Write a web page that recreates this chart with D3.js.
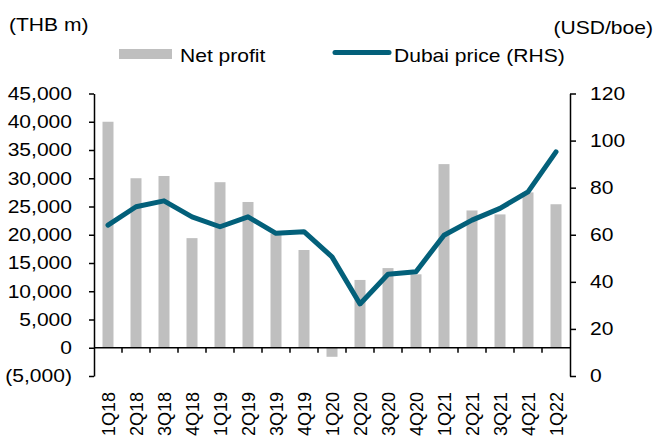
<!DOCTYPE html>
<html>
<head>
<meta charset="utf-8">
<script src="https://cdn.jsdelivr.net/npm/d3@7"></script>
<style>
body{margin:0;background:#fff}
svg{display:block}
text{font-family:"Liberation Sans",Arial,sans-serif;font-size:18px;fill:#000}
</style>
</head>
<body>
<svg width="656" height="441"></svg>
<script>
const quarters=["1Q18","2Q18","3Q18","4Q18","1Q19","2Q19","3Q19","4Q19","1Q20","2Q20","3Q20","4Q20","1Q21","2Q21","3Q21","4Q21","1Q22"]
const netProfit=[40000,30000,30400,19400,29300,25800,20200,17300,-1600,12000,14100,13000,32500,24300,23600,27500,25400]
const dubai=[64.1,71.9,74.4,67.6,63.4,67.6,60.6,61.3,50.6,30.6,43.2,44.3,59.8,66.2,71.2,78.2,95.2]
const leftTicks=[-5000,0,5000,10000,15000,20000,25000,30000,35000,40000,45000]
const rightTicks=[0,20,40,60,80,100,120]

const sx=1.17 // text in the picture is a bit wide
const svg=d3.select("svg")
const x0=94,x1=570,yTop=93.5,yBot=376
const barCol="#bfbfbf",lineCol="#03607a"

const x=d3.scaleBand().domain(quarters).range([x0,x1])
const yL=d3.scaleLinear().domain([-5000,45000]).range([yBot,yTop])
const yR=d3.scaleLinear().domain([0,120]).range([yBot,yTop])

const fmt=v=>v<0?"("+d3.format(",")(-v)+")":d3.format(",")(v)

// bars
svg.append("g").selectAll("rect").data(netProfit).join("rect")
.attr("x",(d,i)=>x(quarters[i])+x.bandwidth()/2-5.5)
.attr("width",11)
.attr("y",d=>yL(Math.max(0,d)))
.attr("height",d=>Math.abs(yL(d)-yL(0)))
.attr("fill",barCol)

// left axis
let gl=svg.append("g").attr("transform",`translate(${x0},0)`)
.call(d3.axisLeft(yL).tickValues(leftTicks).tickFormat(fmt).tickSize(5).tickSizeOuter(0))
gl.select(".domain").attr("stroke-width",1.5)
gl.selectAll(".tick line").attr("stroke-width",1.5)
gl.selectAll("text").attr("x",-22/sx).attr("transform",`scale(${sx},1)`).style("font-size","18px").style("font-family",null)

// right axis
let gr=svg.append("g").attr("transform",`translate(${x1},0)`)
.call(d3.axisRight(yR).tickValues(rightTicks).tickSize(6).tickSizeOuter(0))
gr.select(".domain").attr("stroke-width",1.5)
gr.selectAll(".tick line").attr("stroke-width",1.5)
gr.selectAll("text").attr("x",20/sx).attr("transform",`scale(${sx},1)`).style("font-size","18px").style("font-family",null)

// x axis at zero
let gx=svg.append("g").attr("transform",`translate(0,${yL(0)})`)
gx.append("line").attr("x1",x0).attr("x2",x1).attr("stroke","#000").attr("stroke-width",1.5)
gx.selectAll(".tk").data(quarters.slice(1)).join("line")
.attr("x1",d=>x(d)).attr("x2",d=>x(d)).attr("y1",0).attr("y2",5)
.attr("stroke","#000").attr("stroke-width",1.5)

// rotated quarter labels
svg.append("g").selectAll("text").data(quarters).join("text")
.attr("transform",d=>`translate(${x(d)+x.bandwidth()/2+1},392) rotate(-90)`)
.attr("text-anchor","end").attr("dy","0.35em").text(d=>d)

// line
const line=d3.line().x((d,i)=>x(quarters[i])+x.bandwidth()/2).y(d=>yR(d))
svg.append("path").datum(dubai).attr("d",line).attr("fill","none")
.attr("stroke",lineCol).attr("stroke-width",5).attr("stroke-linejoin","round").attr("stroke-linecap","round")

// units and legend
const txt=(t,px,py,anchor)=>svg.append("text").attr("transform",`translate(${px},${py}) scale(${sx},1)`).attr("text-anchor",anchor||"start").text(t)
txt("(THB m)",9,30.5)
txt("(USD/boe)",653,34,"end")
svg.append("rect").attr("x",119).attr("y",49).attr("width",53).attr("height",10).attr("fill",barCol)
txt("Net profit",180,62)
svg.append("line").attr("x1",335).attr("x2",389).attr("y1",52.5).attr("y2",52.5)
.attr("stroke",lineCol).attr("stroke-width",5).attr("stroke-linecap","round")
txt("Dubai price (RHS)",394,62)
</script>
</body>
</html>
